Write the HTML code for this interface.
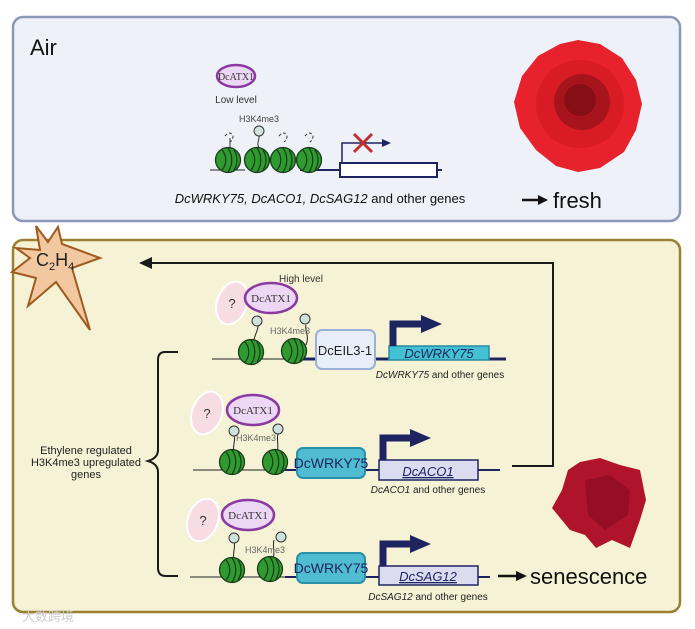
<!DOCTYPE html>
<html><head><meta charset="utf-8"><style>
html,body{margin:0;padding:0;background:#fff;}
svg{display:block;font-family:"Liberation Sans",sans-serif;}
</style></head><body>
<svg width="695" height="629" viewBox="0 0 695 629" xmlns="http://www.w3.org/2000/svg">
<defs>
<g id="nuc">
<circle r="12.5" fill="#2f9a2f" stroke="#1a3a1a" stroke-width="1.3"/>
<path d="M-6,-10 C-1,-4 -1,4 -6,10 M0,-12 C5,-5 5,5 0,12 M6,-10 C10,-4 10,4 6,10" fill="none" stroke="#1a3a1a" stroke-width="1.2"/>
</g>
<g id="atx">
<ellipse rx="26" ry="15" fill="#ecd8f4" stroke="#8a3aa0" stroke-width="2.5"/>
<text y="4" text-anchor="middle" font-family="Liberation Serif,serif" font-size="11" fill="#333">DcATX1</text>
</g>
<g id="q">
<ellipse rx="15" ry="22" transform="rotate(20)" fill="#f7dde3" stroke="#fff" stroke-width="2"/>
<text y="5" text-anchor="middle" font-size="13" fill="#333">?</text>
</g>
</defs>

<rect x="13" y="17" width="667" height="204" rx="10" fill="#eef1f7" stroke="#8c98b8" stroke-width="2.5"/>
<text x="30" y="55" font-size="22" fill="#111">Air</text>
<ellipse cx="236" cy="76" rx="19" ry="11" fill="#ecd8f4" stroke="#8a3aa0" stroke-width="2.5"/>
<text x="236" y="80" text-anchor="middle" font-family="Liberation Serif,serif" font-size="10" fill="#333">DcATX1</text>
<text x="236" y="103" text-anchor="middle" font-size="10" fill="#333">Low level</text>
<text x="259" y="122" text-anchor="middle" font-size="9" fill="#444">H3K4me3</text>
<line x1="210" y1="170" x2="245" y2="170" stroke="#222" stroke-width="1"/>
<line x1="300" y1="170" x2="340" y2="170" stroke="#1e2460" stroke-width="2"/>
<line x1="437" y1="170" x2="442" y2="170" stroke="#1e2460" stroke-width="2"/>
<path d="M230,148 v-10 M259,148 C256,142 260,140 259,135" stroke="#333" fill="none"/>
<circle cx="259" cy="131" r="5" fill="#cfe2dc" stroke="#333"/>
<path d="M225,136 q5,-6 8,0 q0,4 -3,6 M279,136 q5,-6 8,0 q0,4 -3,6 M305,136 q5,-6 8,0 q0,4 -3,6" fill="none" stroke="#333" stroke-dasharray="3,2"/>
<use href="#nuc" x="228" y="160"/><use href="#nuc" x="257" y="160"/><use href="#nuc" x="283" y="160"/><use href="#nuc" x="309" y="160"/>
<rect x="340" y="163" width="97" height="14" fill="#fff" stroke="#1e2460" stroke-width="2"/>
<path d="M342,163 V143 H382" fill="none" stroke="#1e2460" stroke-width="1.5"/>
<path d="M382,139 L391,143 L382,147 Z" fill="#1e2460"/>
<path d="M354,134 L372,152 M372,134 L354,152" stroke="#c03030" stroke-width="3"/>
<text x="320" y="203" text-anchor="middle" font-size="13" fill="#111"><tspan font-style="italic">DcWRKY75, DcACO1, DcSAG12</tspan> and other genes</text>
<line x1="522" y1="200" x2="540" y2="200" stroke="#111" stroke-width="2.5"/>
<path d="M538,195 L548,200 L538,205 Z" fill="#111"/>
<text x="553" y="208" font-size="22" fill="#111">fresh</text>
<g>
<path d="M560,44 L578,40 L600,44 L622,58 L636,80 L642,104 L636,130 L624,152 L600,168 L578,172 L556,166 L536,150 L520,128 L514,102 L522,76 L538,56 Z" fill="#e8222c"/>
<circle cx="580" cy="104" r="44" fill="#d81b24"/>
<circle cx="582" cy="102" r="28" fill="#a8141c"/>
<circle cx="580" cy="100" r="16" fill="#7a0c12" opacity="0.7"/>
</g>

<rect x="13" y="240" width="667" height="372" rx="10" fill="#f5f2d6" stroke="#9a8030" stroke-width="2.5"/>
<polygon points="36,226 48,242 58,227 62,244 100,258 72,268 90,330 56,282 28,306 36,278 12,272 30,258 16,248 40,250" fill="#f2c8a0" stroke="#a05a20" stroke-width="2"/>
<text x="36" y="266" font-size="18" fill="#222">C<tspan font-size="11" dy="4">2</tspan><tspan dy="-4">H</tspan><tspan font-size="11" dy="4">4</tspan></text>
<path d="M512,466 H553 V263 H150" fill="none" stroke="#1a1a1a" stroke-width="2"/>
<path d="M152,257 L139,263 L152,269 Z" fill="#1a1a1a"/>

<path d="M178,352 H165 Q158,352 158,360 V450 Q158,458 148,461 Q158,464 158,472 V568 Q158,576 166,576 H178" fill="none" stroke="#1a1a1a" stroke-width="2"/>
<text x="86" y="454" text-anchor="middle" font-size="11" fill="#222">Ethylene regulated</text>
<text x="86" y="466" text-anchor="middle" font-size="11" fill="#222">H3K4me3 upregulated</text>
<text x="86" y="478" text-anchor="middle" font-size="11" fill="#222">genes</text>

<text x="301" y="282" text-anchor="middle" font-size="10" fill="#333">High level</text>
<use href="#q" x="232" y="303"/>
<use href="#atx" x="271" y="298"/>
<line x1="212" y1="359" x2="300" y2="359" stroke="#222"/>
<line x1="300" y1="359" x2="506" y2="359" stroke="#1e2460" stroke-width="3"/>
<path d="M254,347 C252,338 258,332 258,326 M306,345 C310,336 304,330 306,325" stroke="#222" fill="none"/>
<circle cx="257" cy="321" r="5" fill="#cfe2dc" stroke="#333"/><circle cx="305" cy="319" r="5" fill="#cfe2dc" stroke="#333"/>
<text x="290" y="334" text-anchor="middle" font-size="9" fill="#666">H3K4me3</text>
<use href="#nuc" x="251" y="352"/><use href="#nuc" x="294" y="351"/>
<rect x="316" y="330" width="59" height="39" rx="6" fill="#e8eef9" stroke="#9ab0d8" stroke-width="2"/>
<text x="345" y="355" text-anchor="middle" font-size="13" fill="#222">DcEIL3-1</text>
<rect x="389" y="346" width="100" height="14" fill="#44c0d4" stroke="#2a8aa0" stroke-width="1.5"/>
<text x="439" y="358" text-anchor="middle" font-size="13" font-style="italic" fill="#1e2460">DcWRKY75</text>
<path d="M393,346 V324 H424" fill="none" stroke="#1e2460" stroke-width="7"/>
<path d="M421,315 L442,324 L421,333 Z" fill="#1e2460"/>
<text x="440" y="378" text-anchor="middle" font-size="10" fill="#222"><tspan font-style="italic">DcWRKY75</tspan> and other genes</text>

<use href="#q" x="207" y="413"/>
<use href="#atx" x="253" y="410"/>
<line x1="193" y1="470" x2="285" y2="470" stroke="#222"/>
<line x1="285" y1="470" x2="500" y2="470" stroke="#1e2460" stroke-width="2"/>
<path d="M234,455 C232,446 236,440 234,436 M276,455 C280,446 276,440 278,434" stroke="#222" fill="none"/>
<circle cx="234" cy="431" r="5" fill="#cfe2dc" stroke="#333"/><circle cx="278" cy="429" r="5" fill="#cfe2dc" stroke="#333"/>
<text x="256" y="441" text-anchor="middle" font-size="9" fill="#666">H3K4me3</text>
<use href="#nuc" x="232" y="462"/><use href="#nuc" x="275" y="462"/>
<rect x="297" y="448" width="68" height="30" rx="6" fill="#50bcd2" stroke="#2a90a8" stroke-width="2"/>
<text x="331" y="468" text-anchor="middle" font-size="14" fill="#1e2460">DcWRKY75</text>
<rect x="379" y="460" width="99" height="20" fill="#dcdcf0" stroke="#1e2460" stroke-width="1.5"/>
<text x="428" y="476" text-anchor="middle" font-size="13" font-style="italic" fill="#1e2460" text-decoration="underline">DcACO1</text>
<path d="M383,460 V438 H412" fill="none" stroke="#1e2460" stroke-width="7"/>
<path d="M410,429 L431,438 L410,447 Z" fill="#1e2460"/>
<text x="428" y="493" text-anchor="middle" font-size="10" fill="#222"><tspan font-style="italic">DcACO1</tspan> and other genes</text>

<use href="#q" x="203" y="520"/>
<use href="#atx" x="248" y="515"/>
<line x1="190" y1="577" x2="285" y2="577" stroke="#222"/>
<line x1="285" y1="577" x2="490" y2="577" stroke="#1e2460" stroke-width="2"/>
<path d="M234,562 C232,553 236,547 234,542 M272,562 C276,553 272,547 274,540" stroke="#222" fill="none"/>
<circle cx="234" cy="538" r="5" fill="#cfe2dc" stroke="#333"/><circle cx="281" cy="537" r="5" fill="#cfe2dc" stroke="#333"/>
<text x="265" y="553" text-anchor="middle" font-size="9" fill="#666">H3K4me3</text>
<use href="#nuc" x="232" y="570"/><use href="#nuc" x="270" y="569"/>
<rect x="297" y="553" width="68" height="30" rx="6" fill="#50bcd2" stroke="#2a90a8" stroke-width="2"/>
<text x="331" y="573" text-anchor="middle" font-size="14" fill="#1e2460">DcWRKY75</text>
<rect x="379" y="566" width="99" height="19" fill="#dcdcf0" stroke="#1e2460" stroke-width="1.5"/>
<text x="428" y="581" text-anchor="middle" font-size="13" font-style="italic" fill="#1e2460" text-decoration="underline">DcSAG12</text>
<path d="M383,566 V544 H412" fill="none" stroke="#1e2460" stroke-width="7"/>
<path d="M410,535 L431,544 L410,553 Z" fill="#1e2460"/>
<text x="428" y="600" text-anchor="middle" font-size="10" fill="#222"><tspan font-style="italic">DcSAG12</tspan> and other genes</text>
<line x1="498" y1="576" x2="518" y2="576" stroke="#111" stroke-width="2.5"/>
<path d="M516,571 L527,576 L516,581 Z" fill="#111"/>
<text x="530" y="584" font-size="22" fill="#111">senescence</text>

<path d="M580,462 L600,458 L620,465 L640,470 L646,500 L640,520 L630,548 L612,540 L596,548 L585,535 L570,530 L552,508 L562,490 L568,470 Z" fill="#b0142c"/>
<path d="M585,480 L610,475 L630,490 L628,515 L605,530 L588,515 Z" fill="#8c0c20" opacity="0.7"/>

<text x="22" y="621" font-size="13" fill="#ccc">大数跨境</text>
</svg>
</body></html>
